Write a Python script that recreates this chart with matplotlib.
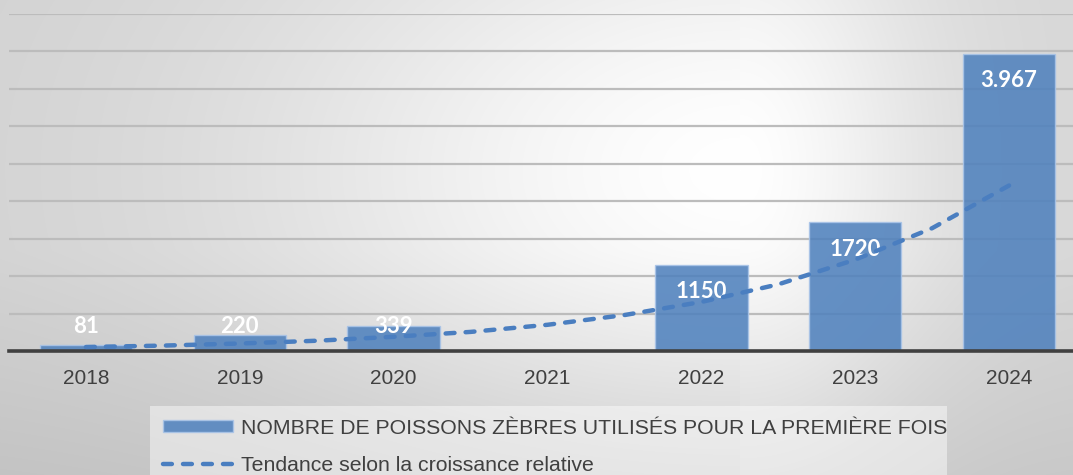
import numpy as np
import matplotlib
matplotlib.use("Agg")
import matplotlib.pyplot as plt
from matplotlib.patches import Rectangle

# data
years = ["2018", "2019", "2020", "2021", "2022", "2023", "2024"]
counts = [81, 220, 339, 0, 1150, 1720, 3967]
count_labels = ["81", "220", "339", "", "1150", "1720", "3.967"]
# trend curve at half-year steps (category index, value)
trend_pos = [0, 0.5, 1, 1.5, 2, 2.5, 3, 3.5, 4, 4.5, 5, 5.5, 6]
trend_val = [53, 72, 100, 137, 190, 255, 350, 480, 655, 890, 1220, 1640, 2210]

bar_name = "NOMBRE DE POISSONS ZÈBRES UTILISÉS POUR LA PREMIÈRE FOIS"
trend_name = "Tendance selon la croissance relative"

W, H = 1073, 475
fig = plt.figure(figsize=(W / 100, H / 100), dpi=100)

# background: soft grey gradient, white around the centre right
yy, xx = np.mgrid[0:H, 0:W].astype(float)
cx, cy = 740, 170
sx = np.where(xx < cx, 700.0, 270.0)
amp = np.where(xx < cx, 46.0, 40.0)
d = np.sqrt(((xx - cx) / sx) ** 2 + ((yy - cy) / 450.0) ** 2)
loss = amp * np.tanh((d * 1.25) ** 1.6) + 15 * np.clip((yy - 250) / 225, 0, 1)
grey = np.clip(255 - loss, 0, 255) / 255
bg = fig.add_axes([0, 0, 1, 1], zorder=0)
bg.imshow(np.dstack([grey, grey, grey]), aspect="auto", extent=[0, 1, 0, 1])
bg.axis("off")

# main axes (runs a little past the right edge, like the original)
left = 9 / W
bottom = (H - 351) / H
ax = fig.add_axes([left, bottom, 1077 / W, 337 / H], zorder=1)
ax.patch.set_alpha(0)

x = np.arange(len(years))
bars = ax.bar(x, counts, width=0.6, color="#4f81bd", alpha=0.87,
              edgecolor="#a9c4e8", linewidth=1.0, zorder=2, label=bar_name)

# data labels in white, inside the bar end
for xi, v, lab in zip(x, counts, count_labels):
    if lab:
        ax.text(xi, max(v - 360, 330), lab, ha="center", va="center",
                color="white", fontsize=16, fontweight="bold",
                family=["Lato", "DejaVu Sans"], zorder=3)

trend, = ax.plot(trend_pos, trend_val, color="#4a7ec0", linewidth=3.2,
                 linestyle=(0, (2.0, 2.5)), dash_capstyle="round",
                 zorder=4, label=trend_name)

ax.set_xlim(-0.5, len(years) - 0.5)
ax.set_ylim(0, 4500)
ax.set_yticks(np.arange(500, 4501, 500))
ax.yaxis.grid(True, color="#bcbcbc", linewidth=1.6, zorder=0)
ax.set_axisbelow(True)
ax.tick_params(axis="y", left=False, labelleft=False)
ax.set_xticks(x)
ax.set_xticklabels(years, fontsize=15, color="#404040",
                   family=["Liberation Sans", "DejaVu Sans"])
ax.tick_params(axis="x", length=0, pad=13)
for s in ["left", "right", "top"]:
    ax.spines[s].set_visible(False)
ax.spines["bottom"].set_color("#404040")
ax.spines["bottom"].set_linewidth(2.6)

# legend panel
fig.patches.append(Rectangle((150 / W, 0), 797 / W, (H - 406) / H,
                             transform=fig.transFigure, facecolor="white",
                             alpha=0.45, edgecolor="none", zorder=1))
leg = fig.legend(handles=[bars, trend], loc="upper left",
                 bbox_to_anchor=(150 / W, (H - 406) / H), frameon=False,
                 prop={"family": ["Liberation Sans", "DejaVu Sans"], "size": 15.3},
                 handlelength=3.3, handleheight=0.5, handletextpad=0.4,
                 labelspacing=0.85, borderpad=0.6, borderaxespad=0)
for t in leg.get_texts():
    t.set_color("#404040")

fig.savefig("out.png", dpi=100)
